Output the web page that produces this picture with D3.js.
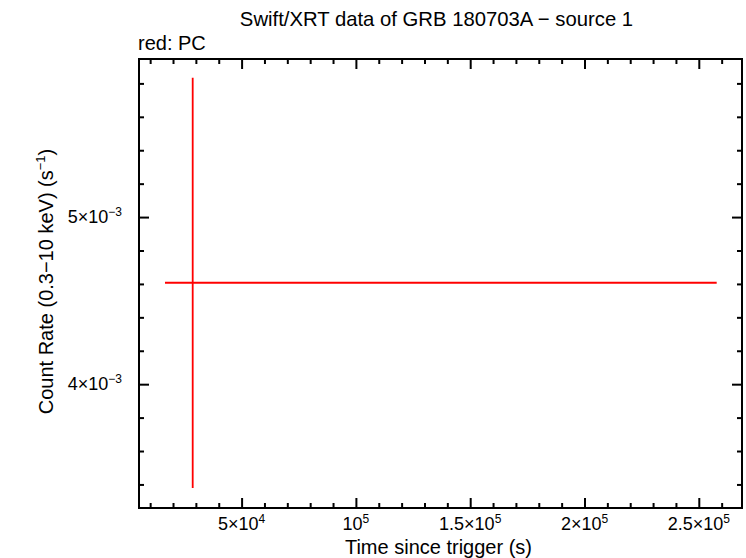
<!DOCTYPE html>
<html>
<head>
<meta charset="utf-8">
<script src="https://cdn.jsdelivr.net/npm/d3@7"></script>
<style>
  body { margin: 0; background: #fff; }
  text { font-family: "Liberation Sans", Arial, Helvetica, sans-serif; fill: #000; }
  .axis path, .axis line { stroke: #000; stroke-width: 2; }
</style>
</head>
<body>
<svg id="chart"></svg>
<script>
// Chart data (PC mode, one bin)
const timeMid = [28610];
const timeStart = [16490];
const timeEnd = [257830];
const rate = [4.607e-3];
const rateErrUp = [1.227e-3];
const rateErrDown = [1.228e-3];

// tick labels: [mantissa, exponent]
const xMajorTicks = [5e4, 1e5, 1.5e5, 2e5, 2.5e5];
const xTickLabels = [["5×10", "4"], ["10", "5"], ["1.5×10", "5"], ["2×10", "5"], ["2.5×10", "5"]];
const yMajorTicks = [4e-3, 5e-3];
const yTickLabels = [["4×10", "−3"], ["5×10", "−3"]];

const xDomain = [5120, 268900];
const yDomain = [3.259e-3, 5.946e-3];

const width = 746;
const height = 558;
const margin = { top: 59, right: 4, bottom: 50, left: 139 };
const innerW = width - margin.left - margin.right;
const innerH = height - margin.top - margin.bottom;

const svg = d3.select('#chart').attr("width", width).attr("height", height);
const g = svg.append("g").attr("transform", `translate(${margin.left},${margin.top})`);

// scales
const xScale = d3.scaleLinear().domain(xDomain).range([0, innerW]);
const yScale = d3.scaleLinear().domain(yDomain).range([innerH, 0]);

const xMinor = d3.range(1e4, 2.7e5, 1e4).filter(d => d % 5e4 !== 0);
const yMinor = d3.range(34, 60, 2).map(d => d * 1e-4).filter(d => Math.abs(d * 1e3 - Math.round(d * 1e3)) > 1e-6);

// inward ticks on all four sides
function tickAxis(axisFn, scale, values, size, transform) {
  g.append("g")
    .attr("class", "axis")
    .attr("transform", transform)
    .call(axisFn(scale).tickValues(values).tickSize(size).tickFormat("").tickSizeOuter(0))
    .select(".domain").remove();
}
tickAxis(d3.axisBottom, xScale, xMajorTicks, -10, `translate(0,${innerH})`);
tickAxis(d3.axisBottom, xScale, xMinor, -5, `translate(0,${innerH})`);
tickAxis(d3.axisTop, xScale, xMajorTicks, -10, "translate(0,0)");
tickAxis(d3.axisTop, xScale, xMinor, -5, "translate(0,0)");
tickAxis(d3.axisLeft, yScale, yMajorTicks, -10, "translate(0,0)");
tickAxis(d3.axisLeft, yScale, yMinor, -5, "translate(0,0)");
tickAxis(d3.axisRight, yScale, yMajorTicks, -10, `translate(${innerW},0)`);
tickAxis(d3.axisRight, yScale, yMinor, -5, `translate(${innerW},0)`);

// frame
g.append("rect")
  .attr("width", innerW)
  .attr("height", innerH)
  .attr("fill", "none")
  .attr("stroke", "#000")
  .attr("stroke-width", 2);

// x tick labels
const xLab = g.selectAll(".xlab")
  .data(xMajorTicks)
  .enter()
  .append("text")
  .attr("class", "xlab")
  .attr("x", d => xScale(d))
  .attr("y", innerH + 22)
  .attr("text-anchor", "middle")
  .attr("font-size", "18px");
xLab.append("tspan").text((d, i) => xTickLabels[i][0]);
xLab.append("tspan").attr("dy", -7).attr("font-size", "12px").text((d, i) => xTickLabels[i][1]);

// y tick labels
const yLab = g.selectAll(".ylab")
  .data(yMajorTicks)
  .enter()
  .append("text")
  .attr("class", "ylab")
  .attr("x", -17)
  .attr("y", d => yScale(d) + 6)
  .attr("text-anchor", "end")
  .attr("font-size", "18px");
yLab.append("tspan").text((d, i) => yTickLabels[i][0]);
yLab.append("tspan").attr("dy", -7).attr("font-size", "12px").text((d, i) => yTickLabels[i][1]);

// axis titles
g.append("text")
  .attr("x", innerW / 2 - 2)
  .attr("y", innerH + 46)
  .attr("text-anchor", "middle")
  .attr("font-size", "20px")
  .text("Time since trigger (s)");

const yTitle = g.append("text")
  .attr("transform", `translate(-86,${innerH / 2 - 2}) rotate(-90)`)
  .attr("text-anchor", "middle")
  .attr("font-size", "20px");
yTitle.append("tspan").text("Count Rate (0.3−10 keV) (s");
yTitle.append("tspan").attr("dy", -8).attr("font-size", "13px").text("−1");
yTitle.append("tspan").attr("dy", 8).text(")");

// title and legend note
svg.append("text")
  .attr("x", margin.left + innerW / 2 - 4)
  .attr("y", 26)
  .attr("text-anchor", "middle")
  .attr("font-size", "20.3px")
  .text("Swift/XRT data of GRB 180703A − source 1");

svg.append("text")
  .attr("x", margin.left - 1)
  .attr("y", 50)
  .attr("font-size", "20px")
  .text("red: PC");

// data: error bars in time and rate
g.selectAll(".xerr")
  .data(timeMid)
  .enter()
  .append("line")
  .attr("x1", (_, i) => xScale(timeStart[i]))
  .attr("x2", (_, i) => xScale(timeEnd[i]))
  .attr("y1", (_, i) => yScale(rate[i]))
  .attr("y2", (_, i) => yScale(rate[i]))
  .attr("stroke", "#ff0000")
  .attr("stroke-width", 1.8);

g.selectAll(".yerr")
  .data(timeMid)
  .enter()
  .append("line")
  .attr("x1", d => xScale(d))
  .attr("x2", d => xScale(d))
  .attr("y1", (_, i) => yScale(rate[i] + rateErrUp[i]))
  .attr("y2", (_, i) => yScale(rate[i] - rateErrDown[i]))
  .attr("stroke", "#ff0000")
  .attr("stroke-width", 1.8);
</script>
</body>
</html>
